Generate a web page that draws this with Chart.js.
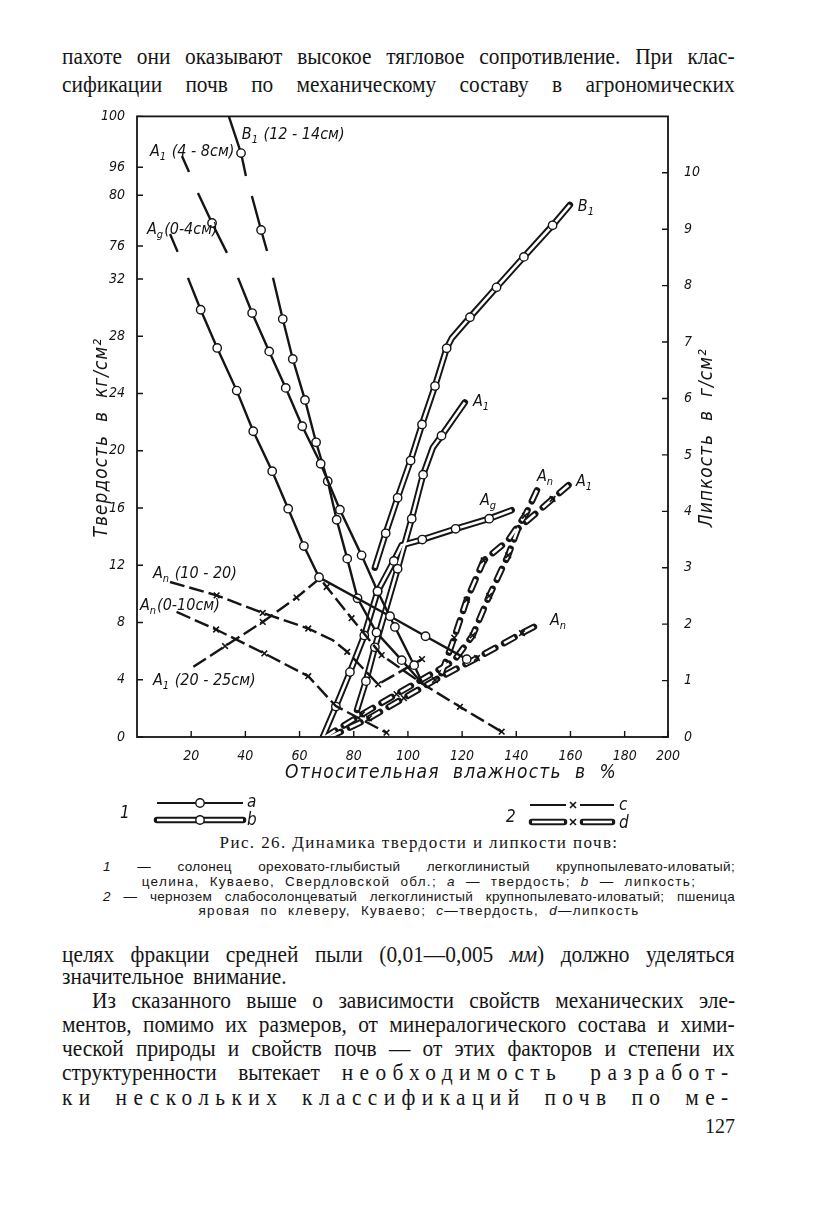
<!DOCTYPE html>
<html>
<head>
<meta charset="utf-8">
<script src="https://cdn.jsdelivr.net/npm/chart.js@4/dist/chart.umd.min.js"></script>
<style>
  body { margin: 0; width: 838px; height: 1205px; background: #fff; position: relative; overflow: hidden;
         font-family: 'Liberation Serif', 'DejaVu Serif', serif; color: #151515; }
  .t { position: absolute; left: 62px; width: 708px; font-size: 22.5px; line-height: 24px;
       text-align: justify; text-align-last: justify; transform: scaleX(0.95); transform-origin: 0 0; }
  .s { letter-spacing: 0.3em; }
  .cap { position: absolute; font-family: 'Liberation Sans', 'DejaVu Sans', sans-serif; font-size: 13.5px; line-height: 15px; }
  #c { position: absolute; left: 0; top: 100px; }
</style>
</head>
<body>
<div class="t" style="top:45px">пахоте они оказывают высокое тягловое сопротивление. При клас-</div>
<div class="t" style="top:73px">сификации почв по механическому составу в агрономических</div>

<canvas id="c" width="838" height="730"></canvas>

<div style="position:absolute;top:833px;left:0;width:838px;text-align:center;font-size:17px;line-height:20px;letter-spacing:1.4px">Рис. 26. Динамика твердости и липкости почв:</div>
<div class="cap" style="top:859px;left:103px;width:632px;text-align:justify;text-align-last:justify;letter-spacing:0.3px"><i>1</i> — солонец ореховато-глыбистый легкоглинистый крупнопылевато-иловатый;</div>
<div class="cap" style="top:874px;left:0;width:838px;text-align:center;letter-spacing:1.3px;word-spacing:5px">целина, Куваево, Свердловской обл.; <i>a</i> — твердость; <i>b</i> — липкость;</div>
<div class="cap" style="top:889px;left:103px;width:632px;text-align:justify;text-align-last:justify;letter-spacing:0.3px"><i>2</i> — чернозем слабосолонцеватый легкоглинистый крупнопылевато-иловатый; пшеница</div>
<div class="cap" style="top:903px;left:0;width:838px;text-align:center;letter-spacing:1.3px;word-spacing:5px">яровая по клеверу, Куваево; <i>c</i>—твердость, <i>d</i>—липкость</div>

<div class="t" style="top:943px">целях фракции средней пыли (0,01—0,005 <i>мм</i>) должно уделяться</div>
<div class="t" style="top:965px;text-align:left;text-align-last:left;word-spacing:4px">значительное внимание.</div>
<div class="t" style="top:989px;left:92px;width:677px">Из сказанного выше о зависимости свойств механических эле-</div>
<div class="t" style="top:1013px">ментов, помимо их размеров, от минералогического состава и хими-</div>
<div class="t" style="top:1037px">ческой природы и свойств почв — от этих факторов и степени их</div>
<div class="t" style="top:1061px">структуренности вытекает <span class="s">необходимость разработ-</span></div>
<div class="t s" style="top:1086px">ки нескольких классификаций почв по ме-</div>
<div style="position:absolute;top:1115px;left:705px;font-size:20px">127</div>

<script>
// оси
const xTicks = [20, 40, 60, 80, 100, 120, 140, 160, 180, 200];
const hardTicks = [0, 4, 8, 12, 16, 20, 24, 28, 32, 76, 80, 96, 100];
const stickTicks = [0, 1, 2, 3, 4, 5, 6, 7, 8, 9, 10];
const XMAX = 196;   // последний интервал шкалы (180–200) на рисунке короче
const HTOP = 10.87; // верх левой (разорванной) шкалы в условных единицах
const STOP = 11.0;  // верх правой оси (г/см2)

// 1 — солонец, a — твердость (кг/см2), [влажность %, твердость]; null = разрыв оси
const aAg = [[12.2, 76.95], [15.0, 75.54], null, [18.8, 32.08], [23.5, 29.85], [29.6, 27.18], [36.8, 24.20],
  [42.9, 21.36], [49.9, 18.57], [55.8, 15.95], [61.6, 13.34], [67.2, 11.16], [93.4, 8.44], [106.5, 7.04], [121.7, 5.44]];
const aA1 = [[16.6, 96.88], [19.2, 95.62], null, [22.5, 80.17], [27.7, 77.81], [33.2, 75.46], null, [37.3, 32.08],
  [42.5, 29.62], [48.8, 26.94], [54.9, 24.39], [61.0, 21.71], [67.8, 19.09], [74.9, 15.88], [82.9, 12.69],
  [88.8, 10.18], [95.2, 7.69], [102.3, 5.02], [105.5, 3.70]];
const aB1 = [[33.9, 100], [38.4, 97.11], [40.2, 95.30], null, [42.4, 79.94], [45.8, 77.26], [48.0, 75.61], null,
  [50.2, 32.08], [53.8, 29.20], [57.5, 26.41], [62.0, 23.55], [66.1, 20.59], [70.4, 17.87], [73.7, 15.18],
  [77.6, 12.46], [81.4, 9.69], [88.4, 7.30], [97.7, 5.37], [105.5, 3.70]];

// 1 — солонец, b — липкость (г/см2)
const bB1 = [[87.8, 3.00], [91.8, 3.61], [96.2, 4.24], [101.0, 4.90], [105.2, 5.54], [110.0, 6.22], [114.3, 6.89],
  [116.2, 7.07], [122.9, 7.44], [132.7, 7.97], [142.8, 8.51], [153.4, 9.07], [159.8, 9.43]];
const bA1 = [[81.2, 0.48], [84.5, 0.99], [87.8, 1.59], [96.2, 2.98], [101.4, 3.87], [105.6, 4.65], [109.2, 5.13],
  [112.4, 5.34], [121.0, 5.93]];
const bAg = [[68.6, 0], [73.4, 0.54], [78.6, 1.15], [83.9, 1.80], [88.8, 2.58], [94.8, 3.12], [97.7, 3.40],
  [105.3, 3.50], [117.6, 3.69], [130.0, 3.87], [138.3, 4.02]];

// 2 — чернозем, c — твердость (кг/см2)
const cAn1020 = [[12.2, 10.83], [29.4, 9.90], [46.4, 8.67], [63.2, 7.58], [72.3, 6.76], [77.6, 5.95], [89.0, 3.68], [105.2, 5.44]];
const cAn010 = [[14.6, 8.74], [29.2, 7.51], [47.0, 5.84], [63.2, 4.25], [73.4, 2.16], [92.1, 0.30]];
const cA12025 = [[20.8, 4.90], [32.5, 6.35], [46.4, 8.04], [58.9, 9.74], [67.5, 11.09], [70.0, 10.48], [79.2, 8.30],
  [90.3, 5.72], [105.5, 3.70], [119.2, 2.11], [134.6, 0.37]];

// 2 — чернозем, d — липкость (г/см2)
const dAnLow = [[71.2, 0], [85.6, 0.33], [98.5, 0.69], [110.0, 1.01], [125.5, 1.40], [142.1, 1.84], [148.7, 2.01]];
const dA1 = [[69.4, 0], [83.0, 0.40], [95.8, 0.76], [117.0, 1.35], [123.9, 1.80], [130.0, 2.50], [137.0, 3.22],
  [140.6, 3.69], [153.4, 4.22], [160.4, 4.51]];
const dAnUp = [[112.4, 1.13], [117.1, 1.76], [121.7, 2.43], [128.0, 3.13], [136.9, 3.48], [143.2, 3.92], [148.1, 4.42]];

// левая ось с разрывами: твердость -> положение на условной шкале
function hv(h) {
  if (h < 54) return h * 0.2507;
  if (h < 88) return 8.60 + (h - 76) * 0.2225;
  return 9.98 + (h - 96) * 0.2225;
}

const INK = '#151515';
const FF = "'Liberation Sans Narrow', 'DejaVu Sans Condensed', 'Liberation Sans', sans-serif";

function pts(arr, hard) {
  return arr.map((p, i) => p ? { x: p[0], y: hard ? hv(p[1]) : p[1] } : { x: arr[i - 1][0], y: null });
}
function radius(skip, r) {
  return ctx => skip.includes(ctx.dataIndex) ? 0 : r;
}

const datasets = [];
// сплошная линия с кружками (a)
function lineA(arr, skip) {
  datasets.push({ data: pts(arr, true), yAxisID: 'yL', borderColor: INK, borderWidth: 2.4, pointStyle: 'circle',
    pointRadius: radius(skip, 4.2), pointBackgroundColor: '#fff', pointBorderColor: INK, pointBorderWidth: 1.4, order: 1 });
}
// штрих с крестиками (c)
function lineC(arr, skip) {
  datasets.push({ data: pts(arr, true), yAxisID: 'yL', borderColor: INK, borderWidth: 2.4, borderDash: [15, 5],
    pointStyle: 'crossRot', pointRadius: radius(skip, 4), pointBorderColor: INK, pointBorderWidth: 1.6, order: 1 });
}
// двойная линия (b — сплошная с кружками, d — прерывистая с крестиками)
function lineDouble(arr, skip, dashed) {
  const dash = dashed ? [12, 10] : [];
  datasets.push({ data: pts(arr, false), yAxisID: 'yR', borderColor: INK, borderWidth: 6.5, borderDash: dash,
    borderCapStyle: 'round', borderJoinStyle: 'round', pointRadius: 0, order: 3 });
  datasets.push({ data: pts(arr, false), yAxisID: 'yR', borderColor: '#fff', borderWidth: 2.6, borderDash: dash,
    borderCapStyle: 'butt', borderJoinStyle: 'round', pointStyle: dashed ? 'crossRot' : 'circle',
    pointRadius: radius(skip, dashed ? 4 : 4.2), pointBackgroundColor: '#fff', pointBorderColor: INK,
    pointBorderWidth: dashed ? 1.6 : 1.4, order: 2 });
}

lineDouble(bB1, [0, 7, 12], false);
lineDouble(bA1, [0, 6, 8], false);
lineDouble(bAg, [0, 6, 10], false);
lineDouble(dAnLow, [0, 6], true);
lineDouble(dA1, [0, 3, 7, 9], true);
lineDouble(dAnUp, [0, 4, 6], true);
lineA(aAg, [0, 1, 3]);
lineA(aA1, [0, 1, 3, 5, 7, 18]);
lineA(aB1, [0, 2, 4, 6, 8, 19]);
lineC(cAn1020, [0, 4]);
lineC(cAn010, [0, 4]);
lineC(cA12025, [0, 4, 8]);

// подписи кривых: [влажность, положение по условной шкале], части текста (1 = индекс)
const notes = [
  { x: 4.8, y: 10.17, t: [['A'], ['1', 1], [' (4 - 8см)']] },
  { x: 38.7, y: 10.47, t: [['B'], ['1', 1], [' (12 - 14см)']] },
  { x: 3.7, y: 8.81, t: [['A'], ['g', 1], ['(0-4см)']] },
  { x: 162.7, y: 9.21, t: [['B'], ['1', 1]] },
  { x: 124.0, y: 5.80, t: [['A'], ['1', 1]] },
  { x: 126.6, y: 4.06, t: [['A'], ['g', 1]] },
  { x: 147.6, y: 4.49, t: [['A'], ['n', 1]] },
  { x: 162.0, y: 4.39, t: [['A'], ['1', 1]] },
  { x: 152.4, y: 1.96, t: [['A'], ['n', 1]] },
  { x: 5.9, y: 2.78, t: [['A'], ['n', 1], [' (10 - 20)']] },
  { x: 1.1, y: 2.22, t: [['A'], ['n', 1], ['(0-10см)']] },
  { x: 5.9, y: 0.91, t: [['A'], ['1', 1], [' (20 - 25см)']] }
];

function label(ctx, x, y, parts, size) {
  let cx = x;
  parts.forEach(([txt, sub]) => {
    ctx.font = 'italic ' + (sub ? Math.round(size * 0.7) : size) + 'px ' + FF;
    ctx.fillText(txt, cx, sub ? y + 4 : y);
    cx += ctx.measureText(txt).width + (sub ? 1 : 0);
  });
}

function doubleBar(ctx, x1, x2, y) {
  ctx.save();
  ctx.lineCap = 'round'; ctx.strokeStyle = INK; ctx.lineWidth = 6.5;
  ctx.beginPath(); ctx.moveTo(x1, y); ctx.lineTo(x2, y); ctx.stroke();
  ctx.lineCap = 'butt'; ctx.strokeStyle = '#fff'; ctx.lineWidth = 2.6;
  ctx.beginPath(); ctx.moveTo(x1, y); ctx.lineTo(x2, y); ctx.stroke();
  ctx.restore();
}
function circle(ctx, x, y) {
  ctx.beginPath(); ctx.arc(x, y, 4.2, 0, Math.PI * 2);
  ctx.fillStyle = '#fff'; ctx.fill(); ctx.lineWidth = 1.4; ctx.strokeStyle = INK; ctx.stroke();
}
function cross(ctx, x, y) {
  ctx.beginPath(); ctx.lineWidth = 1.6; ctx.strokeStyle = INK;
  ctx.moveTo(x - 3, y - 3); ctx.lineTo(x + 3, y + 3); ctx.moveTo(x + 3, y - 3); ctx.lineTo(x - 3, y + 3);
  ctx.stroke();
}

const decor = {
  id: 'decor',
  afterDraw(chart) {
    const { ctx, chartArea: a, scales } = chart;
    ctx.save();
    // рамка и внутренние засечки
    ctx.strokeStyle = INK; ctx.lineWidth = 1.8;
    ctx.strokeRect(a.left, a.top, a.right - a.left, a.bottom - a.top);
    ctx.lineWidth = 1.4; ctx.beginPath();
    scales.yL.ticks.forEach(t => { const y = scales.yL.getPixelForValue(t.value); ctx.moveTo(a.left, y); ctx.lineTo(a.left + 6, y); });
    scales.yR.ticks.forEach(t => { const y = scales.yR.getPixelForValue(t.value); ctx.moveTo(a.right, y); ctx.lineTo(a.right - 6, y); });
    scales.x.ticks.forEach(t => { const x = scales.x.getPixelForValue(t.value); ctx.moveTo(x, a.bottom); ctx.lineTo(x, a.bottom - 6); });
    ctx.stroke();

    // подписи кривых
    ctx.fillStyle = INK; ctx.textBaseline = 'alphabetic'; ctx.textAlign = 'left';
    notes.forEach(n => label(ctx, scales.x.getPixelForValue(n.x), scales.yL.getPixelForValue(n.y), n.t, 16));

    // названия осей
    ctx.font = 'italic 19px ' + FF; ctx.textAlign = 'center';
    ctx.letterSpacing = '1px';
    const midY = (a.top + a.bottom) / 2 + 11;
    ctx.save(); ctx.translate(a.left - 30, midY); ctx.rotate(-Math.PI / 2);
    ctx.fillText('Твердость  в  кг/см²', 0, 0); ctx.restore();
    ctx.save(); ctx.translate(a.right + 44, midY); ctx.rotate(-Math.PI / 2);
    ctx.fillText('Липкость  в  г/см²', 0, 0); ctx.restore();
    ctx.letterSpacing = '1.2px';
    ctx.fillText('Относительная  влажность  в  %', 451, a.bottom + 41);
    ctx.letterSpacing = '0px';

    // условные обозначения
    const ly = a.bottom + 66;
    ctx.textAlign = 'left';
    ctx.font = 'italic 17px ' + FF;
    ctx.fillText('1', 120, ly + 15);
    ctx.lineWidth = 2.2; ctx.strokeStyle = INK;
    ctx.beginPath(); ctx.moveTo(157, ly); ctx.lineTo(243, ly); ctx.stroke();
    circle(ctx, 200, ly);
    doubleBar(ctx, 157, 243, ly + 17);
    circle(ctx, 200, ly + 17);
    ctx.fillStyle = INK; ctx.font = 'italic 17px ' + FF;
    ctx.fillText('a', 247, ly + 4); ctx.fillText('b', 247, ly + 22);

    ctx.fillText('2', 506, ly + 19);
    const cy = ly + 2;
    ctx.lineWidth = 2.2; ctx.strokeStyle = INK;
    ctx.beginPath(); ctx.moveTo(530, cy); ctx.lineTo(566, cy); ctx.moveTo(580, cy); ctx.lineTo(614, cy); ctx.stroke();
    cross(ctx, 573, cy);
    doubleBar(ctx, 532, 564, cy + 17);
    doubleBar(ctx, 583, 612, cy + 17);
    cross(ctx, 573, cy + 17);
    ctx.fillStyle = INK; ctx.font = 'italic 17px ' + FF;
    ctx.fillText('c', 619, cy + 5); ctx.fillText('d', 619, cy + 23);
    ctx.restore();
  }
};

const tickFont = { family: FF, size: 14, style: 'italic' };

new Chart(document.getElementById('c'), {
  type: 'line',
  data: { datasets },
  options: {
    responsive: false,
    animation: false,
    layout: { padding: { left: 77, right: 120, top: 15, bottom: 63 } },
    plugins: { legend: { display: false }, tooltip: { enabled: false } },
    elements: { line: { tension: 0 } },
    scales: {
      x: {
        type: 'linear', min: 0, max: XMAX,
        grid: { display: false }, border: { display: false },
        afterBuildTicks: s => { s.ticks = xTicks.map(v => ({ value: Math.min(v, XMAX) })); },
        afterFit: s => { s.height = 30; },
        ticks: { font: tickFont, color: INK, padding: 3, maxRotation: 0, autoSkip: false, callback: (v, i) => xTicks[i] }
      },
      yL: {
        type: 'linear', position: 'left', min: 0, max: HTOP,
        grid: { display: false }, border: { display: false },
        afterBuildTicks: s => { s.ticks = hardTicks.map(h => ({ value: hv(h) })); },
        afterFit: s => { s.width = 60; },
        ticks: { font: tickFont, color: INK, padding: 4, autoSkip: false, callback: (v, i) => hardTicks[i] }
      },
      yR: {
        type: 'linear', position: 'right', min: 0, max: STOP,
        grid: { display: false }, border: { display: false },
        afterBuildTicks: s => { s.ticks = stickTicks.map(v => ({ value: v })); },
        afterFit: s => { s.width = 50; },
        ticks: { font: tickFont, color: INK, padding: 8, autoSkip: false, callback: (v, i) => stickTicks[i] }
      }
    }
  },
  plugins: [decor]
});
</script>
</body>
</html>
